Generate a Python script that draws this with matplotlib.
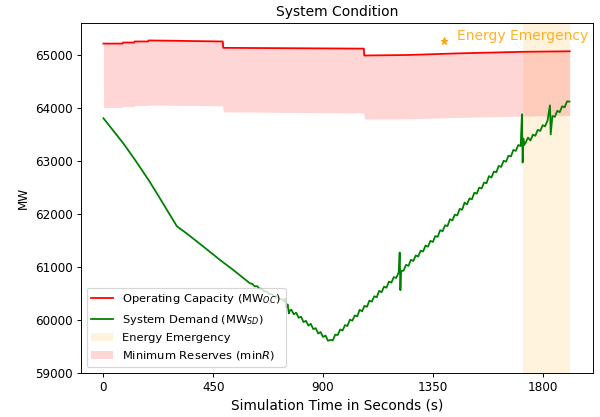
import matplotlib
matplotlib.use("Agg")
import matplotlib.pyplot as plt
from matplotlib.patches import Patch
from matplotlib.lines import Line2D

# Operating capacity (upper) and minimum-reserve floor (lower), MW
oc_time = [0, 78, 80, 126, 128, 183, 185, 489, 491, 1067, 1069, 1250, 1450, 1720, 1911]
oc_mw = [65215, 65215, 65235, 65235, 65255, 65255, 65275, 65255, 65135, 65120,
         64990, 65000, 65030, 65060, 65070]
minr_mw = [64010, 64010, 64025, 64025, 64045, 64045, 64055, 64040, 63925, 63905,
           63790, 63795, 63820, 63845, 63858]

# System demand, MW
sd_time = [0, 83, 131, 186, 220, 301, 342, 411, 479, 533, 590,
           600, 610, 620, 630, 640, 650, 660, 670, 680, 690, 700, 710, 720, 730, 740,
           745, 750, 755, 760, 765,
           770, 780, 790, 800, 810, 820, 830, 840, 850, 860, 870, 880, 890, 900, 910, 920,
           930, 940, 950, 960, 970, 980, 990, 1000, 1010, 1020, 1030, 1040, 1050, 1060,
           1070, 1080, 1090, 1100, 1110, 1120, 1130, 1140, 1150, 1160, 1170, 1180, 1190,
           1200, 1210, 1214, 1217, 1220,
           1230, 1240, 1250, 1260, 1270, 1280, 1290, 1300, 1310, 1320, 1330, 1340, 1350,
           1360, 1370, 1380, 1390, 1400, 1410, 1420, 1430, 1440, 1450, 1460, 1470, 1480,
           1490, 1500, 1510, 1520, 1530, 1540, 1550, 1560, 1570, 1580, 1590, 1600, 1610,
           1620, 1630, 1640, 1650, 1660, 1670, 1680, 1690, 1700, 1710,
           1715, 1718, 1721, 1724,
           1730, 1740, 1750, 1760, 1770, 1780, 1790, 1800, 1810, 1820, 1830, 1833,
           1840, 1850, 1860, 1870, 1880, 1890, 1900, 1910]
sd_mw = [63805, 63322, 63008, 62632, 62380, 61765, 61627, 61376, 61125, 60937, 60725,
         60690, 60678, 60632, 60633, 60586, 60584, 60534, 60533, 60484, 60487, 60441,
         60443, 60391, 60393, 60350,
         60400, 60230, 60290, 60120, 60180,
         60190, 60104, 60133, 60037, 60057, 59956, 59980, 59889, 59923, 59823, 59842,
         59741, 59768, 59674, 59703, 59603,
         59620, 59610, 59720, 59711, 59816, 59796, 59899, 59882, 60002, 59982, 60082,
         60063, 60188, 60158, 60263, 60244, 60362, 60341, 60444, 60425, 60547, 60520,
         60625, 60605, 60721, 60701, 60806, 60789, 60897, 61270, 60560, 60922,
         60927, 61037, 61018, 61133, 61110, 61215, 61194, 61304, 61289, 61402, 61380,
         61490, 61468,
         61581, 61566, 61692, 61672, 61785, 61768, 61899, 61875, 61985, 61971, 62094,
         62077, 62212, 62178, 62291, 62274, 62400, 62380, 62496, 62479, 62592, 62578,
         62713, 62684, 62799, 62785, 62905, 62886, 63002, 62985, 63098, 63083, 63207,
         63189, 63300, 63280,
         63880, 62970, 63420, 63300,
         63340, 63440, 63385, 63495, 63474, 63587, 63564, 63674, 63653, 63763, 64050,
         63500,
         63847, 63832, 63945, 63921, 64031, 64011, 64125, 64120]

emergency_window = [1720, 1911]
alert_time, alert_mw = 1397, 65270
alert_text = "Energy Emergency"
x_ticks = [0, 450, 900, 1350, 1800]

fig = plt.figure(figsize=(600 / 86, 417 / 86), dpi=86)
ax = fig.add_axes([0.135, 0.1062, 0.854, 0.8394])

ax.axvspan(emergency_window[0], emergency_window[1], color="orange", alpha=0.13,
           linewidth=0)
ax.fill_between(oc_time, minr_mw, oc_mw, color="red", alpha=0.16, linewidth=0)
ax.plot(oc_time, oc_mw, color="red", linewidth=1.5)
ax.plot(sd_time, sd_mw, color="green", linewidth=1.5)

ax.plot([alert_time], [alert_mw], marker="*", color="orange", markersize=6,
        linestyle="none")
ax.text(alert_time + 54, alert_mw + 89, alert_text, color="orange", fontsize=11.6,
        ha="left", va="center", alpha=0.85)

ax.set_xlim(-92, 2008)
ax.set_ylim(59000, 65610)
ax.set_xticks(x_ticks)
ax.set_title("System Condition", fontsize=11.6)
ax.set_xlabel("Simulation Time in Seconds (s)", fontsize=11.5)
ax.set_ylabel("MW", fontsize=10)

handles = [
    Line2D([], [], color="red", linewidth=1.5),
    Line2D([], [], color="green", linewidth=1.5),
    Patch(facecolor="orange", alpha=0.13, linewidth=0),
    Patch(facecolor="red", alpha=0.16, linewidth=0),
]
labels = [
    "Operating Capacity (MW$_{OC}$)",
    "System Demand (MW$_{SD}$)",
    "Energy Emergency",
    "Minimum Reserves (min$R$)",
]
ax.legend(handles, labels, loc="lower left", fontsize=9.6, labelspacing=0.55,
          handlelength=1.9)

fig.savefig("out.png", dpi=86)
